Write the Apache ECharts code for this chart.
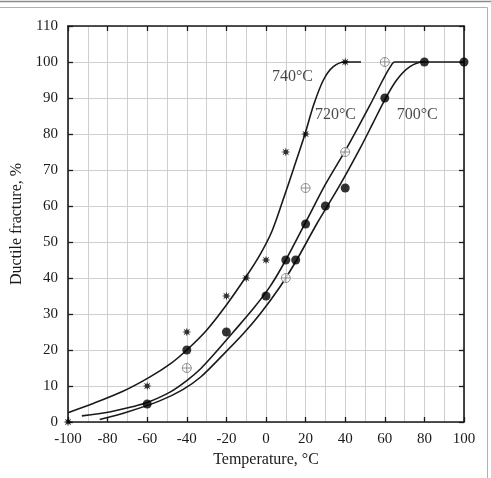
<!DOCTYPE html>
<html>
<head>
<meta charset="utf-8">
<script src="https://cdn.jsdelivr.net/npm/echarts@6/dist/echarts.min.js"></script>
<style>
  html, body { margin: 0; padding: 0; background: #fff; }
  #main { width: 491px; height: 478px; }
</style>
</head>
<body>
<div id="main"></div>
<script>
// measured points
const pts740 = [[-100, 0], [-60, 10], [-40, 25], [-20, 35], [-10, 40], [0, 45], [10, 75], [20, 80], [40, 100]]
const pts720 = [[-40, 15], [10, 40], [20, 65], [40, 75], [60, 100]]
const pts700 = [[-60, 5], [-40, 20], [-20, 25], [0, 35], [10, 45], [15, 45], [20, 55], [30, 60], [40, 65], [60, 90], [80, 100], [100, 100]]

// fitted curves
const curve740 = [[-100, 2.6], [-87, 5.2], [-72, 8.6], [-59, 12.4], [-48, 16.3], [-40, 20], [-30, 25.5], [-20, 32.5],
  [-10, 40.4], [-3, 46.5], [3, 53], [8.5, 61.5], [14, 70.5], [19.7, 80], [24, 88], [29, 95], [34, 98.7], [40, 100], [48, 100]]
const curve720 = [[-93, 1.7], [-79, 2.8], [-67, 4.3], [-60, 5.4], [-48.5, 8.3], [-40, 11.5], [-33, 14.8], [-26.6, 18.6],
  [-16.5, 25], [-6.4, 31.5], [2, 37.6], [10, 45], [20.5, 56], [30, 66], [40.7, 76], [52.5, 88], [59, 95], [62.6, 98.5], [65, 100], [80, 100]]
const curve700 = [[-84, 0.7], [-70, 2.8], [-54, 5.8], [-42, 9], [-33, 12.5], [-22, 18.5], [-11.5, 24.5], [-3, 30], [7, 37.5],
  [15.5, 45], [25.6, 55], [37, 65.5], [47.5, 76], [54, 83], [60, 89.5], [66, 95], [72.7, 98.7], [79.4, 100], [100, 100]]

const curveLabels = [['740°C', 3, 96], ['720°C', 24.7, 85.3], ['700°C', 66, 85.3]]

const font = 'Liberation Serif'
const ink = '#1a1a1a'

// 8-arm asterisk marker
function starPath(n, r1, r2) {
  let d = ''
  for (let i = 0; i < n * 2; i++) {
    const a = i * Math.PI / n - Math.PI / 2
    const r = i % 2 ? r2 : r1
    d += (i ? 'L' : 'M') + (r * Math.cos(a)).toFixed(3) + ' ' + (r * Math.sin(a)).toFixed(3) + ' '
  }
  return 'path://' + d + 'Z'
}
const crossCircle = 'path://M-10 0A10 10 0 1 1 10 0A10 10 0 1 1 -10 0ZM-10 0L10 0M0 -10L0 10'

const chart = echarts.init(document.getElementById('main'))

const lineSeries = (data) => ({
  type: 'line', data, smooth: 0.3, symbol: 'none', silent: true,
  lineStyle: { color: ink, width: 1.6 }, z: 3
})

const axisCommon = {
  type: 'value',
  axisLine: { show: true, onZero: false, lineStyle: { color: ink, width: 1.6 } },
  axisTick: { show: true, inside: true, length: 5, lineStyle: { color: ink, width: 1.3 } },
}

chart.setOption({
  animation: false,
  backgroundColor: '#fff',
  grid: { left: 68, right: 27, top: 26, bottom: 56 },
  xAxis: [
    {
      ...axisCommon, position: 'bottom', min: -100, max: 100, interval: 20,
      name: 'Temperature, °C', nameLocation: 'middle', nameGap: 30,
      nameTextStyle: { fontFamily: font, fontSize: 16, color: ink },
      axisLabel: { fontFamily: font, fontSize: 15, color: ink, margin: 10 },
      splitLine: { show: true, lineStyle: { color: '#cfcfcf', width: 1 } },
      minorTick: { show: false, splitNumber: 2 },
      minorSplitLine: { show: true, lineStyle: { color: '#cfcfcf', width: 1 } }
    },
    {
      ...axisCommon, position: 'top', min: -100, max: 100, interval: 20,
      axisLabel: { show: false }, splitLine: { show: false }
    }
  ],
  yAxis: [
    {
      ...axisCommon, position: 'left', min: 0, max: 110, interval: 10,
      name: 'Ductile fracture, %', nameLocation: 'middle', nameGap: 42,
      nameTextStyle: { fontFamily: font, fontSize: 16, color: ink },
      axisLabel: { fontFamily: font, fontSize: 15, color: ink, margin: 10 },
      splitLine: { show: true, lineStyle: { color: '#cfcfcf', width: 1 } }
    },
    {
      ...axisCommon, position: 'right', min: 0, max: 110, interval: 10,
      axisLabel: { show: false }, splitLine: { show: false }
    }
  ],
  series: [
    lineSeries(curve740),
    lineSeries(curve720),
    lineSeries(curve700),
    {
      type: 'scatter', data: pts740, symbol: starPath(8, 1, 0.45), symbolSize: 9,
      itemStyle: { color: '#000' }, z: 5
    },
    {
      type: 'scatter', data: pts720, symbol: crossCircle, symbolSize: 9,
      itemStyle: { color: '#fff', borderColor: '#777', borderWidth: 1 }, z: 5
    },
    {
      type: 'scatter', data: pts700, symbol: 'circle', symbolSize: 9,
      itemStyle: { color: '#000' }, z: 5
    },
    {
      type: 'scatter', symbolSize: 0, silent: true, z: 6,
      data: curveLabels.map(l => ({ name: l[0], value: [l[1], l[2]] })),
      label: {
        show: true, position: 'right', distance: 0, formatter: '{b}',
        fontFamily: font, fontSize: 16, color: ink
      }
    }
  ],
  graphic: [
    { type: 'line', shape: { x1: 0, y1: 1.5, x2: 491, y2: 1.5 }, style: { stroke: '#8a8a8a', lineWidth: 1.5 }, silent: true },
    { type: 'line', shape: { x1: 0, y1: 7.5, x2: 487.5, y2: 7.5 }, style: { stroke: '#b0b0b0', lineWidth: 1 }, silent: true },
    { type: 'line', shape: { x1: 487.5, y1: 7.5, x2: 487.5, y2: 478 }, style: { stroke: '#b0b0b0', lineWidth: 1 }, silent: true }
  ]
})
</script>
</body>
</html>
